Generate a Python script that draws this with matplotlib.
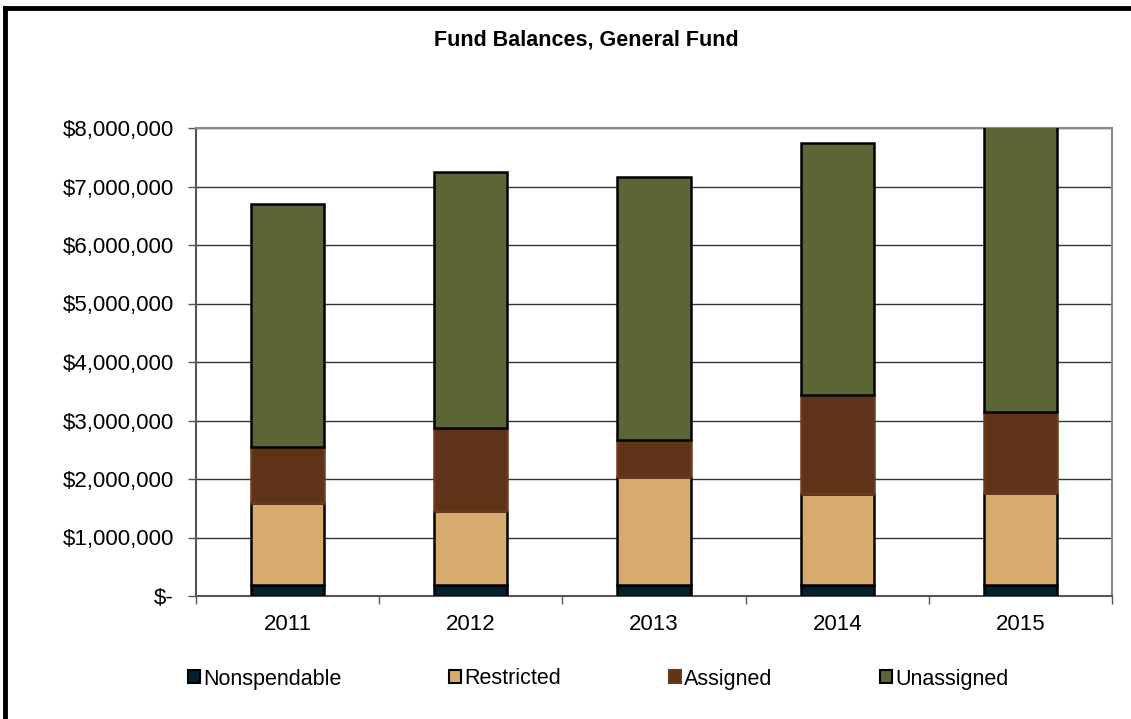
import matplotlib
matplotlib.use('Agg')
import matplotlib.pyplot as plt
import numpy as np
from matplotlib.ticker import FuncFormatter
from matplotlib.patches import Patch
from matplotlib.lines import Line2D

plt.rcParams['font.family'] = ['Liberation Sans', 'DejaVu Sans']

years = ['2011', '2012', '2013', '2014', '2015']
nonspendable = [190000, 190000, 185000, 190000, 185000]
restricted = [1395000, 1260000, 1845000, 1550000, 1570000]
assigned = [965000, 1420000, 640000, 1690000, 1385000]
unassigned = [4150000, 4380000, 4490000, 4320000, 4910000]

series = [
    ('Nonspendable', nonspendable, '#03202e', 'black'),
    ('Restricted', restricted, '#d8aa6d', 'black'),
    ('Assigned', assigned, '#5f3318', '#6b3a1c'),
    ('Unassigned', unassigned, '#5c6536', 'black'),
]

fig = plt.figure(figsize=(11.31, 7.19), dpi=100)
ax = fig.add_axes([196 / 1131, 123 / 719, 916 / 1131, 468 / 719])

x = np.arange(len(years))
bottom = np.zeros(len(years))
handles = []
for name, vals, face, edge in series:
    ax.bar(x, vals, width=0.4, bottom=bottom, color=face, edgecolor=edge,
           linewidth=1.8, zorder=3)
    bottom += np.array(vals)
    handles.append(Patch(facecolor=face, edgecolor=edge, linewidth=1.5, label=name))

ax.set_xlim(-0.5, len(years) - 0.5)
ax.set_ylim(0, 8000000)
ax.set_yticks(np.arange(0, 8000001, 1000000))
ax.yaxis.set_major_formatter(FuncFormatter(
    lambda v, p: '$-' if v == 0 else '${:,.0f}'.format(v)))
ax.set_xticks(x)
ax.set_xticklabels(years)
ax.set_xticks(np.arange(-0.5, len(years)), minor=True)
ax.tick_params(axis='x', which='major', length=0, labelsize=16, pad=13)
ax.tick_params(axis='x', which='minor', length=6, width=1, color='#555555', direction='out')
ax.tick_params(axis='y', length=6, width=1, color='#555555', labelsize=16, pad=10)
ax.grid(axis='y', color='#333333', linewidth=1, zorder=0)
for s in ['left', 'bottom']:
    ax.spines[s].set_color('#555555')
    ax.spines[s].set_linewidth(1.5)
for s in ['top', 'right']:
    ax.spines[s].set_color('#888888')
    ax.spines[s].set_linewidth(1.5)

fig.text(0.518, 1 - 40 / 719, 'Fund Balances, General Fund', ha='center', va='center',
         fontsize=15.5, fontweight='bold')

fig.legend(handles=handles, loc='center', bbox_to_anchor=(0.529, 1 - 679 / 719),
           ncol=4, frameon=False, fontsize=15.5, handlelength=0.55, handleheight=0.55,
           handletextpad=0.15, columnspacing=5.0)

# outer frame
fig.add_artist(Line2D([5 / 1131, 1.05], [1 - 8 / 719, 1 - 8 / 719], color='black',
                      linewidth=3.5, transform=fig.transFigure))
fig.add_artist(Line2D([5 / 1131, 5 / 1131], [-0.05, 1 - 8 / 719], color='black',
                      linewidth=3.5, transform=fig.transFigure))

fig.savefig('out.png', dpi=100)
